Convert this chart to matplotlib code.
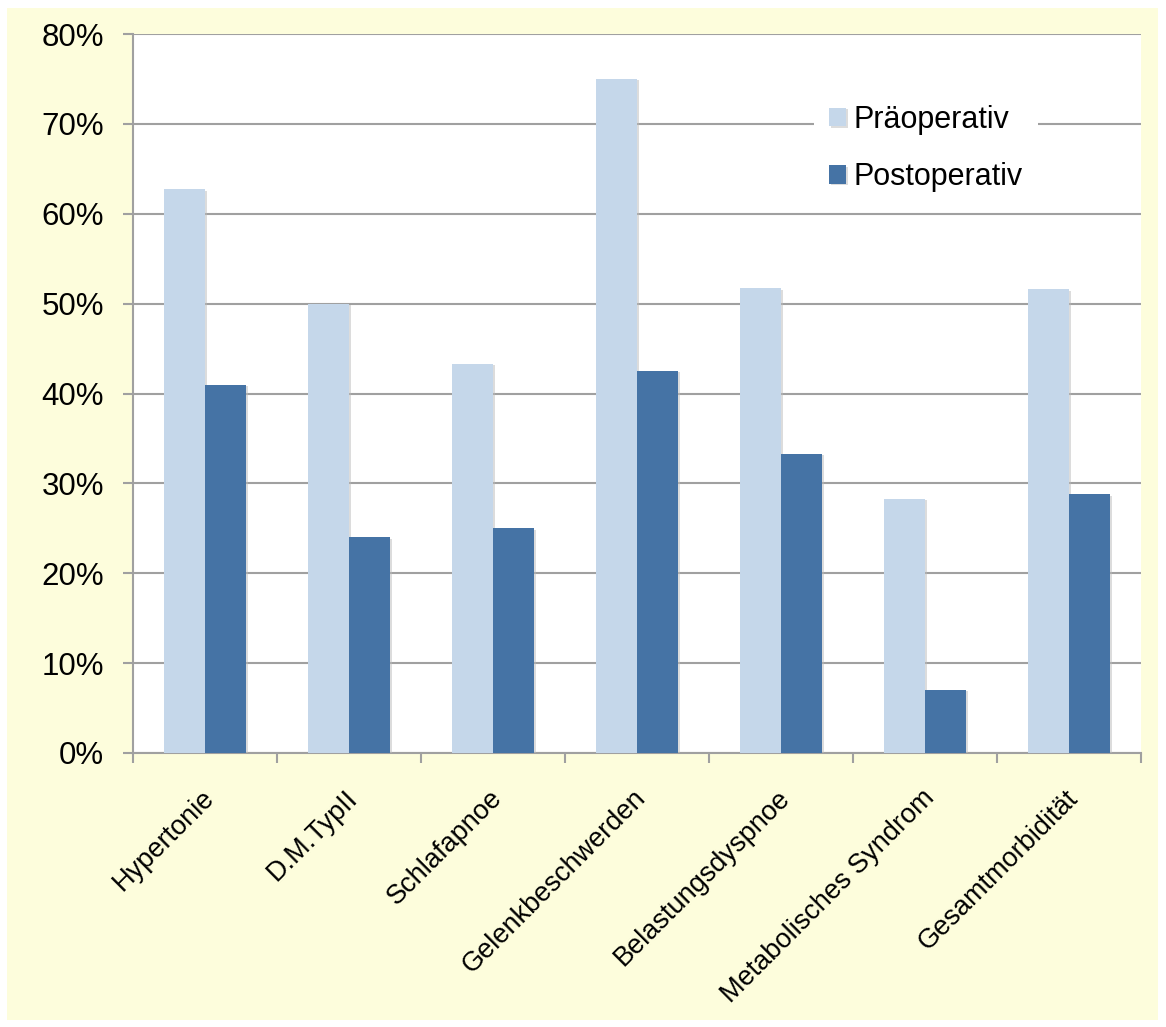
import matplotlib
matplotlib.use("Agg")
import matplotlib.pyplot as plt
from matplotlib.patches import Rectangle
from matplotlib.ticker import FuncFormatter, MultipleLocator
import matplotlib.patheffects as pe
import matplotlib.transforms as mtransforms
import numpy as np

plt.rcParams['font.family'] = ['Liberation Sans', 'DejaVu Sans']

categories = ["Hypertonie", "D.M.TypII", "Schlafapnoe", "Gelenkbeschwerden",
              "Belastungsdyspnoe", "Metabolisches Syndrom", "Gesamtmorbidität"]
pre_values = [62.7, 50.0, 43.3, 75.0, 51.7, 28.3, 51.6]
post_values = [41.0, 24.0, 25.0, 42.5, 33.3, 7.0, 28.8]
series_names = ["Präoperativ", "Postoperativ"]

W, H = 1166, 1027
fig = plt.figure(figsize=(W / 100, H / 100), dpi=100, facecolor="white")

# yellow panel behind the chart
fig.patches.append(Rectangle((7 / W, 1 - 1020 / H), (1158 - 7) / W, (1020 - 8) / H,
                             transform=fig.transFigure, facecolor="#FDFDDC",
                             edgecolor="none", zorder=-10))

ax = fig.add_axes([133 / W, 1 - 753 / H, (1141 - 133) / W, (753 - 34) / H])
ax.set_facecolor("white")

x = np.arange(len(categories))
bw = 0.285
shadow = [pe.SimplePatchShadow(offset=(1.5, -1), shadow_rgbFace="#BBBBBB", alpha=0.5), pe.Normal()]
b1 = ax.bar(x - bw / 2, pre_values, width=bw, color="#C5D7EA", label=series_names[0],
            zorder=3, path_effects=shadow)
b2 = ax.bar(x + bw / 2, post_values, width=bw, color="#4573A5", label=series_names[1],
            zorder=3, path_effects=shadow)

ax.set_xlim(-0.5, len(categories) - 0.5)
ax.set_ylim(0, 80)
ax.yaxis.set_major_locator(MultipleLocator(10))
ax.yaxis.set_major_formatter(FuncFormatter(lambda v, p: f"{v:.0f}%"))
ax.grid(axis="y", color="#A0A0A0", linewidth=1.5, zorder=1)
ax.set_axisbelow(True)

for s in ["top", "right"]:
    ax.spines[s].set_visible(False)
for s in ["left", "bottom"]:
    ax.spines[s].set_color("#A0A0A0")
    ax.spines[s].set_linewidth(1.5)

ax.tick_params(axis="y", length=7, width=1.5, color="#A0A0A0", labelsize=22.5, pad=14)
ax.set_xticks(np.arange(len(categories) + 1) - 0.5, minor=True)
ax.set_xticks(x)
ax.set_xticklabels(categories, rotation=45, ha="right", rotation_mode="anchor",
                   fontsize=19.5)
ax.tick_params(axis="x", which="major", length=0, pad=23)
ax.tick_params(axis="x", which="minor", length=7, width=1.5, color="#A0A0A0")
offs = mtransforms.ScaledTranslation(-4 / 100, 0, fig.dpi_scale_trans)
for lbl in ax.get_xticklabels():
    lbl.set_transform(lbl.get_transform() + offs)

leg = ax.legend(loc="upper left", bbox_to_anchor=(0.66, 0.944), fontsize=22,
                frameon=True, framealpha=1, edgecolor="none", facecolor="white",
                handlelength=0.55, handleheight=0.55, handletextpad=0.25,
                labelspacing=0.9, borderpad=0.5, fancybox=False)
leg.set_zorder(5)

fig.savefig("out.png", dpi=100, facecolor="white")
